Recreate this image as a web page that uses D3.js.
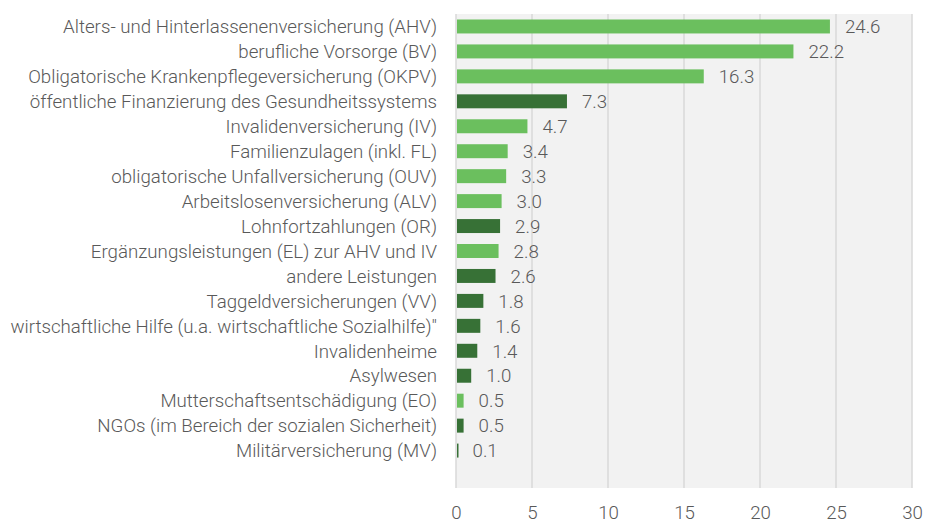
<!DOCTYPE html>
<html>
<head>
<meta charset="utf-8">
<script src="https://cdn.jsdelivr.net/npm/d3@7"></script>
<style>
  body { margin: 0; background: #fff; }
  svg text { font-family: Roboto, sans-serif; font-weight: 300; fill: #595959; }
</style>
</head>
<body>
<svg id="chart" width="925" height="523"></svg>
<script>
// categories, top to bottom
const categories = [
  'Alters- und Hinterlassenenversicherung (AHV)',
  'berufliche Vorsorge (BV)',
  'Obligatorische Krankenpflegeversicherung (OKPV)',
  'öffentliche Finanzierung des Gesundheitssystems',
  'Invalidenversicherung (IV)',
  'Familienzulagen (inkl. FL)',
  'obligatorische Unfallversicherung (OUV)',
  'Arbeitslosenversicherung (ALV)',
  'Lohnfortzahlungen (OR)',
  'Ergänzungsleistungen (EL) zur AHV und IV',
  'andere Leistungen',
  'Taggeldversicherungen (VV)',
  'wirtschaftliche Hilfe (u.a. wirtschaftliche Sozialhilfe)"',
  'Invalidenheime',
  'Asylwesen',
  'Mutterschaftsentschädigung (EO)',
  'NGOs (im Bereich der sozialen Sicherheit)',
  'Militärversicherung (MV)'
];
const values = [24.6, 22.2, 16.3, 7.3, 4.7, 3.4, 3.3, 3.0, 2.9, 2.8, 2.6, 1.8, 1.6, 1.4, 1.0, 0.5, 0.5, 0.1];
// 'L' = light green, 'D' = dark green
const groups = ['L', 'L', 'L', 'D', 'L', 'L', 'L', 'L', 'D', 'L', 'D', 'D', 'D', 'D', 'D', 'L', 'D', 'D'];
const xTicks = [0, 5, 10, 15, 20, 25, 30];

const colors = {L: '#6bbf5e', D: '#377136'};
const fontSize = '18.7px';

const svg = d3.select('#chart');
const m = {top: 14, right: 13, bottom: 35, left: 456};
const w = 925 - m.left - m.right;
const h = 523 - m.top - m.bottom;

const g = svg.append('g').attr('transform', 'translate(' + m.left + ',' + m.top + ')');

const x = d3.scaleLinear().domain([0, 30]).range([0, w]);
// one empty slot at the bottom, as in the original chart
const y = d3.scaleBand().domain(categories.concat([''])).range([0, h]).paddingInner(0.44).paddingOuter(0.22);

g.append('rect')
  .attr('x', 0).attr('y', 0)
  .attr('width', w).attr('height', h)
  .style('fill', '#f2f2f2');

g.selectAll('.grid')
  .data(xTicks).enter()
  .append('line')
  .attr('class', 'grid')
  .attr('x1', d => x(d)).attr('x2', d => x(d))
  .attr('y1', 0).attr('y2', h)
  .style('stroke', '#d9d9d9')
  .style('stroke-width', 1.5);

g.selectAll('.bar')
  .data(values).enter()
  .append('rect')
  .attr('class', 'bar')
  .attr('x', x(0) + 1)
  .attr('y', (d, i) => y(categories[i]))
  .attr('width', d => Math.max(1.5, x(d) - x(0) - 1))
  .attr('height', y.bandwidth())
  .style('fill', (d, i) => colors[groups[i]]);

g.selectAll('.val')
  .data(values).enter()
  .append('text')
  .attr('class', 'val')
  .attr('x', d => x(d) + 15)
  .attr('y', (d, i) => y(categories[i]) + y.bandwidth() / 2)
  .attr('dy', '0.36em')
  .style('font-size', fontSize)
  .text(d => d.toFixed(1));

g.selectAll('.cat')
  .data(categories).enter()
  .append('text')
  .attr('class', 'cat')
  .attr('x', -19)
  .attr('y', d => y(d) + y.bandwidth() / 2)
  .attr('dy', '0.36em')
  .attr('text-anchor', 'end')
  .style('font-size', fontSize)
  .text(d => d);

const xAxis = g.append('g')
  .attr('transform', 'translate(0,' + h + ')')
  .call(d3.axisBottom(x).tickValues(xTicks).tickSize(0).tickPadding(18));
xAxis.select('.domain').remove();
xAxis.selectAll('text')
  .style('font-size', fontSize)
  .style('font-family', 'Roboto, sans-serif')
  .style('font-weight', 300)
  .attr('fill', '#595959');
</script>
</body>
</html>
